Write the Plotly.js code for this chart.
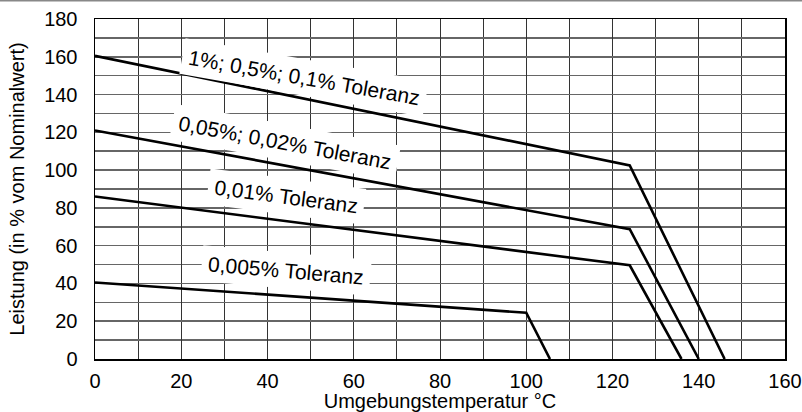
<!DOCTYPE html>
<html>
<head>
<meta charset="utf-8">
<script src="https://cdn.plot.ly/plotly-3.0.1.min.js"></script>
<style>html,body{margin:0;padding:0;background:#fff;}#chart{width:802px;height:412px;}</style>
</head>
<body>
<div id="chart"></div>
<script>
// Data (x: ambient temperature °C, y: power in % of nominal)
const seriesNames = ["1%; 0,5%; 0,1% Toleranz", "0,05%; 0,02% Toleranz", "0,01% Toleranz", "0,005% Toleranz"];
const x1 = [0, 124, 146];
const y1 = [160.5, 102.5, 0];
const x2 = [0, 124, 140];
const y2 = [121, 68.7, 0];
const x3 = [0, 124, 136];
const y3 = [86, 49.6, 0];
const x4 = [0, 100, 105.5];
const y4 = [40.5, 24.5, 0];
const xTicks = [0, 20, 40, 60, 80, 100, 120, 140, 160];
const yTicks = [0, 20, 40, 60, 80, 100, 120, 140, 160, 180];

const xs = [x1, x2, x3, x4], ys = [y1, y2, y3, y4];
const traces = xs.map((x, i) => ({
  x: x, y: ys[i], type: 'scatter', mode: 'lines', name: seriesNames[i],
  line: {color: '#000', width: 2.6}, showlegend: false, hoverinfo: 'skip'
}));

// label positions / angles (layout)
const labelPos = [[48.5, 148.8, 10], [44, 114.4, 10.5], [44.3, 85.8, 7.5], [44.3, 47, 5]];
const annotations = seriesNames.map((t, i) => ({
  x: labelPos[i][0], y: labelPos[i][1], xref: 'x', yref: 'y', text: t,
  showarrow: false, textangle: labelPos[i][2], bgcolor: '#fff', borderpad: 6,
  font: {family: 'Liberation Sans, Arial, sans-serif', size: 21, color: '#000'}
}));

const layout = {
  width: 802, height: 412,
  margin: {l: 95, r: 17, t: 19, b: 53},
  paper_bgcolor: '#fff', plot_bgcolor: '#fff',
  font: {family: 'Liberation Sans, Arial, sans-serif', size: 20, color: '#000'},
  xaxis: {
    range: [0, 160], tickvals: xTicks, ticktext: xTicks.map(String),
    showgrid: true, gridcolor: '#333', gridwidth: 1,
    minor: {dtick: 10, showgrid: true, gridcolor: '#333', gridwidth: 1},
    zeroline: false, showline: true, linecolor: '#000', linewidth: 1.5, mirror: true,
    ticks: '', ticklen: 0, ticklabelstandoff: 3, fixedrange: true,
    tickfont: {size: 20},
    title: {text: 'Umgebungstemperatur °C', standoff: 2, font: {size: 20}}
  },
  yaxis: {
    range: [0, 180], tickvals: yTicks, ticktext: yTicks.map(String),
    showgrid: true, gridcolor: '#666', gridwidth: 1.5,
    minor: {dtick: 10, showgrid: true, gridcolor: '#666', gridwidth: 1.5},
    zeroline: false, showline: true, linecolor: '#000', linewidth: 1.5, mirror: true,
    ticks: '', ticklen: 0, ticklabelstandoff: 12, fixedrange: true,
    tickfont: {size: 20},
    title: {text: 'Leistung (in % vom Nominalwert)', standoff: 14, font: {size: 20}}
  },
  annotations: annotations,
  shapes: [{
    type: 'line', xref: 'paper', yref: 'paper',
    x0: -95/690, x1: 1 + 17/690, y0: 1 + 18.5/340, y1: 1 + 18.5/340,
    line: {color: '#888', width: 2}
  }]
};

Plotly.newPlot('chart', traces, layout, {displayModeBar: false, staticPlot: true});
</script>
</body>
</html>
